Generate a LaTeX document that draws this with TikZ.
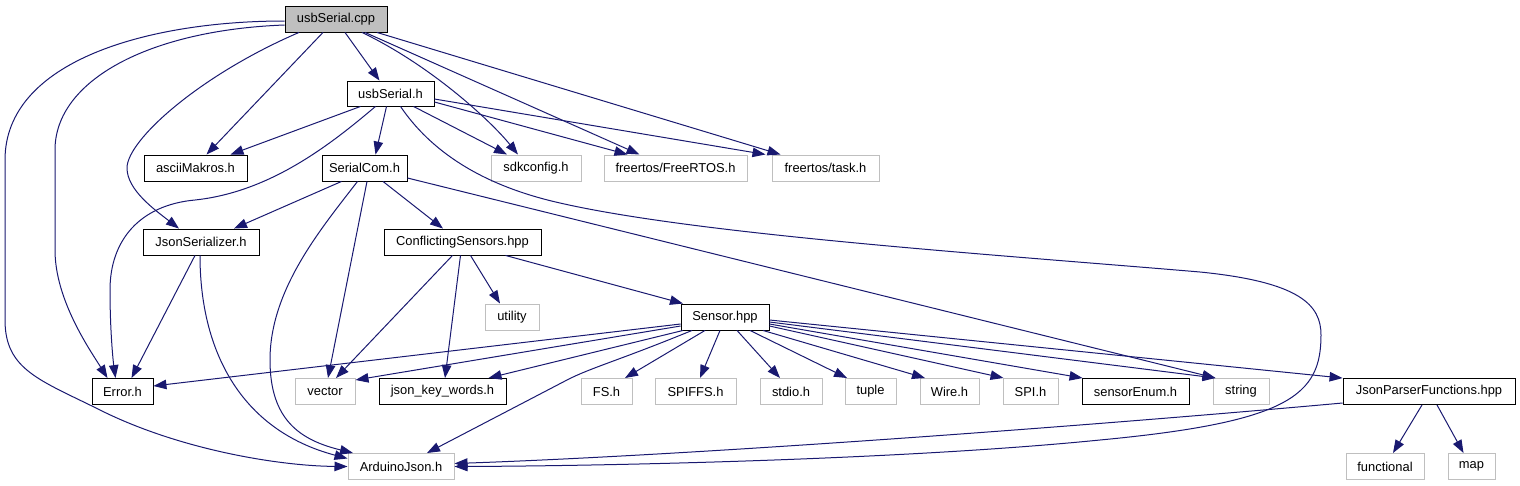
\documentclass[tikz,border=0pt]{standalone}
\usepackage{fontspec}
\setmainfont{Liberation Sans}
\usetikzlibrary{arrows.meta}
\definecolor{edgeblue}{HTML}{191970}
\definecolor{greyseventyfive}{HTML}{BFBFBF}
\begin{document}
\begin{tikzpicture}[x=1pt,y=-1pt,
  box/.style={draw=black, line width=0.9pt, fill=white, minimum height=26pt, inner sep=0pt,
    font=\fontsize{12.9}{15}\selectfont, text=black},
  ext/.style={box, draw=greyseventyfive, line width=1pt},
  dep/.style={draw=edgeblue, line width=1pt, -{Triangle[length=13pt,width=9.5pt]}}]
\useasboundingbox (0,0) rectangle (1520,485);
% nodes
\node[box,fill=greyseventyfive,minimum width=102pt] (cpp) at (336,19) {usbSerial.cpp};
\node[box,minimum width=87pt,minimum height=25pt] (usbh) at (390.5,93.5) {usbSerial.h};
\node[box,minimum width=103pt] (ascii) at (195.5,168) {asciiMakros.h};
\node[box,minimum width=85pt] (scom) at (364.5,168) {SerialCom.h};
\node[ext,minimum width=90pt] (sdk) at (536,168) {sdkconfig.h};
\node[ext,minimum width=143pt] (frtos) at (675.5,168) {freertos/FreeRTOS.h};
\node[ext,minimum width=107pt] (task) at (825.5,168) {freertos/task.h};
\node[box,minimum width=116pt] (jser) at (201,242) {JsonSerializer.h};
\node[box,minimum width=157pt] (conf) at (462.5,242) {ConflictingSensors.hpp};
\node[ext,minimum width=54pt] (util) at (512,317) {utility};
\node[box,minimum width=88pt] (sensor) at (725,317) {Sensor.hpp};
\node[box,minimum width=61pt] (err) at (122.5,391.5) {Error.h};
\node[ext,minimum width=60pt] (vec) at (325,391.5) {vector};
\node[box,minimum width=127pt] (jkw) at (442.5,391.5) {json\_key\_words.h};
\node[ext,minimum width=51pt] (fs) at (606.5,391.5) {FS.h};
\node[ext,minimum width=81pt] (spiffs) at (695.5,391.5) {SPIFFS.h};
\node[ext,minimum width=62pt] (stdio) at (791,391.5) {stdio.h};
\node[ext,minimum width=51pt] (tuple) at (870.5,391.5) {tuple};
\node[ext,minimum width=59pt] (wire) at (949.5,391.5) {Wire.h};
\node[ext,minimum width=55pt] (spi) at (1030.5,391.5) {SPI.h};
\node[box,minimum width=107pt] (senum) at (1135.5,391.5) {sensorEnum.h};
\node[ext,minimum width=56pt] (string) at (1241,391.5) {string};
\node[box,minimum width=172pt] (jpf) at (1429,391.5) {JsonParserFunctions.hpp};
\node[ext,minimum width=106pt] (ajson) at (401,466.5) {ArduinoJson.h};
\node[ext,minimum width=78pt] (func) at (1385,466.5) {functional};
\node[ext,minimum width=47pt] (map) at (1471.5,466.5) {map};
% edges from usbSerial.cpp
\draw[dep] ([xshift=9pt]cpp.south) -- ([xshift=-11pt]usbh.north);
\draw[dep] ([xshift=-13pt]cpp.south) -- ([xshift=11pt]ascii.north);
\draw[dep] ([xshift=-37pt]cpp.south) .. controls (200,75) and (127,140) .. (127,168)
  .. controls (127,190) and (155,210) .. ([xshift=-22pt]jser.north);
\draw[dep] ([yshift=-6pt]cpp.west) .. controls (150,30) and (55,80) .. (55,150) -- (55,250)
  .. controls (55,300) and (90,350) .. ([xshift=-15pt]err.north);
\draw[dep] ([yshift=-2pt]cpp.west) .. controls (150,21) and (5,60) .. (5,160) -- (5,320)
  .. controls (5,370) and (40,380) .. (100,410) .. controls (180,450) and (280,466) .. (ajson.west);
\draw[dep] ([xshift=26pt]cpp.south) .. controls (430,65) and (490,120) .. ([xshift=-18pt]sdk.north);
\draw[dep] ([xshift=29pt]cpp.south) -- ([xshift=-36pt]frtos.north);
\draw[dep] ([xshift=41pt]cpp.south) -- ([xshift=-45pt]task.north);
% edges from usbSerial.h
\draw[dep] ([xshift=-30pt]usbh.south) -- ([xshift=35pt]ascii.north);
\draw[dep] ([xshift=-15pt]usbh.south) .. controls (330,145) and (270,192) .. (195,200)
  .. controls (140,205) and (110,240) .. (110,290) .. controls (110,330) and (113,360) .. ([xshift=-7pt]err.north);
\draw[dep] ([xshift=-4pt]usbh.south) -- ([xshift=11pt]scom.north);
\draw[dep] ([xshift=23pt]usbh.south) -- ([xshift=-29pt]sdk.north);
\draw[dep] ([yshift=-8.5pt]usbh.east) -- ([xshift=-48pt]frtos.north);
\draw[dep] ([yshift=-5.5pt]usbh.east) -- ([xshift=-60pt]task.north);
\draw[dep] ([xshift=10pt]usbh.south) .. controls (430,150) and (480,185) .. (560,203)
  .. controls (700,235) and (1000,255) .. (1200,272)
  .. controls (1300,282) and (1321,305) .. (1321,335)
  .. controls (1321,395) and (1290,422) .. (1100,440)
  .. controls (900,460) and (600,466) .. (ajson.east);
% edges from SerialCom.h
\draw[dep] ([xshift=-23pt]scom.south) -- ([xshift=33pt]jser.north);
\draw[dep] ([xshift=-7pt]scom.south) .. controls (320,230) and (270,290) .. (270,360)
  .. controls (270,420) and (300,440) .. ([xshift=-48pt]ajson.north);
\draw[dep] ([xshift=2.5pt]scom.south) -- ([xshift=3pt]vec.north);
\draw[dep] ([xshift=18.5pt]scom.south) -- ([xshift=-19.5pt]conf.north);
\draw[dep] ([yshift=-10pt]scom.east) -- ([xshift=3pt]string.north west);
% edges from JsonSerializer.h
\draw[dep] ([xshift=-6pt]jser.south) -- ([xshift=9pt]err.north);
\draw[dep] ([xshift=-1pt]jser.south) .. controls (200,350) and (240,430) .. ([yshift=8pt]ajson.west);
% edges from ConflictingSensors.hpp
\draw[dep] ([xshift=-10pt]conf.south) -- ([xshift=11pt]vec.north);
\draw[dep] ([xshift=-2pt]conf.south) -- ([xshift=2.5pt]jkw.north);
\draw[dep] ([xshift=8pt]conf.south) -- ([xshift=-12pt]util.north);
\draw[dep] ([xshift=43pt]conf.south) -- ([xshift=-42pt]sensor.north);
% edges from Sensor.hpp
\draw[dep] ([yshift=-7pt]sensor.west) -- ([yshift=5.5pt]err.east);
\draw[dep] ([yshift=-9pt]sensor.west) -- ([yshift=11.5pt]vec.east);
\draw[dep] ([xshift=-42pt]sensor.south) -- ([xshift=46pt]jkw.north);
\draw[dep] ([xshift=-33pt]sensor.south) .. controls (620,360) and (590,368) .. (567,380)
  -- ([xshift=26pt]ajson.north);
\draw[dep] ([xshift=-20pt]sensor.south) -- ([xshift=18.5pt]fs.north);
\draw[dep] ([xshift=-5pt]sensor.south) -- ([xshift=4.5pt]spiffs.north);
\draw[dep] ([xshift=12pt]sensor.south) -- ([xshift=-11pt]stdio.north);
\draw[dep] ([xshift=25pt]sensor.south) -- ([xshift=-23.5pt]tuple.north);
\draw[dep] ([xshift=38pt]sensor.south) -- ([xshift=-24.5pt]wire.north);
\draw[dep] ([yshift=-9pt]sensor.east) -- ([xshift=1pt]spi.north west);
\draw[dep] ([yshift=-7pt]sensor.east) -- ([xshift=1pt]senum.north west);
\draw[dep] ([yshift=-5pt]sensor.east) -- ([xshift=3pt]string.north west);
\draw[dep] ([yshift=-3pt]sensor.east) -- (jpf.north west);
% edges from JsonParserFunctions.hpp
\draw[dep] ([yshift=-11.5pt]jpf.west) .. controls (1100,425) and (700,455) .. ([yshift=3pt]ajson.east);
\draw[dep] ([xshift=-7pt]jpf.south) -- ([xshift=8pt]func.north);
\draw[dep] ([xshift=8pt]jpf.south) -- ([xshift=-8pt]map.north);
\end{tikzpicture}
\end{document}
